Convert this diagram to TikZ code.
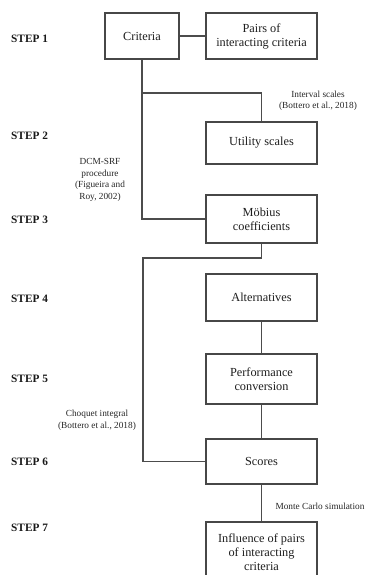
\documentclass[tikz,border=0pt]{standalone}
\usepackage{fontspec}
\setmainfont{Liberation Serif}
\begin{document}
\begin{tikzpicture}[x=1pt,y=-1pt,
  box/.style={draw=black!72, line width=1.1pt, fill=white, text=black!88,
    align=center, inner sep=0pt, font=\fontsize{12.3}{14}\selectfont},
  rbox/.style={box, minimum width=111pt},
  steplabel/.style={anchor=west, inner sep=0pt, text=black!90,
    font=\fontsize{11.3}{13}\selectfont\bfseries},
  note/.style={align=center, inner sep=0pt, text=black!85,
    font=\fontsize{9.3}{11.5}\selectfont},
  link/.style={draw=black!70, line width=1.05pt}]
\useasboundingbox (0,0) rectangle (370,575);
\clip (0,0) rectangle (370,575);
% boxes
\node[box, minimum width=74pt, minimum height=46pt] (crit) at (142,36) {Criteria};
\node[rbox, minimum height=46pt] (pairs) at (261.5,36) {Pairs of\\interacting criteria};
\node[rbox, minimum height=42pt] (util) at (261.5,143) {Utility scales};
\node[rbox, minimum height=48pt] (mob) at (261.5,219) {Möbius\\coefficients};
\node[rbox, minimum height=47pt] (alt) at (261.5,297.5) {Alternatives};
\node[rbox, minimum height=50pt] (perf) at (261.5,379) {Performance\\conversion};
\node[rbox, minimum height=45pt] (scores) at (261.5,461.5) {Scores};
\node[rbox, minimum height=60pt] (infl) at (261.5,552) {Influence of pairs\\of interacting\\criteria};
% step labels
\node[steplabel] (s1) at (11,39) {STEP 1};
\node[steplabel] (s2) at (11,136) {STEP 2};
\node[steplabel] (s3) at (11,220) {STEP 3};
\node[steplabel] (s4) at (11,299) {STEP 4};
\node[steplabel] (s5) at (11,379) {STEP 5};
\node[steplabel] (s6) at (11,462) {STEP 6};
\node[steplabel] (s7) at (11,528) {STEP 7};
% notes
\node[note] (n1) at (318,101) {Interval scales\\(Bottero et al., 2018)};
\node[note] (n2) at (100,180) {DCM-SRF\\procedure\\(Figueira and\\Roy, 2002)};
\node[note] (n3) at (97,420.5) {Choquet integral\\(Bottero et al., 2018)};
\node[note] (n4) at (320,506) {Monte Carlo simulation};
% connectors
\coordinate (branch) at (142,93);
\coordinate (turn) at (143,258);
\draw[link] (crit.east) -- (pairs.west);
\draw[link] (crit.south) |- (mob.west);
\draw[link] (branch) -| (util.north);
\draw[link] (mob.south) |- (turn) |- (scores.west);
\draw[link] (alt.south) -- (perf.north);
\draw[link] (perf.south) -- (scores.north);
\draw[link] (scores.south) -- (infl.north);
\end{tikzpicture}
\end{document}
